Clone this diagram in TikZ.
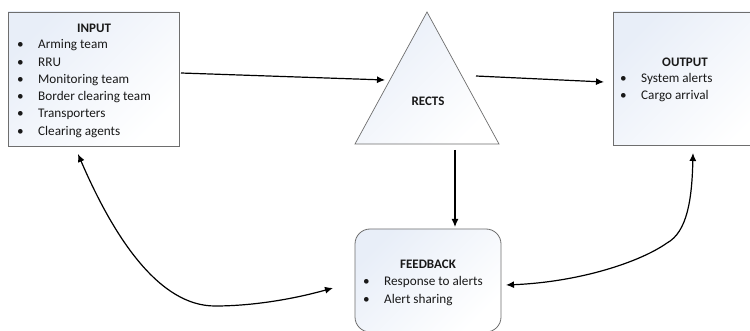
\documentclass[tikz,border=0pt]{standalone}
\usepackage{fontspec}
\setmainfont{Carlito}
\usetikzlibrary{arrows.meta}
\definecolor{boxline}{RGB}{110,110,110}
\definecolor{boxblue}{RGB}{232,238,248}
\tikzset{
  box/.style={draw=boxline, line width=0.8pt, top color=boxblue, bottom color=white, shading angle=45, inner sep=0pt},
  title/.style={font=\fontsize{13}{15}\selectfont\bfseries, inner sep=0pt, text=black!90},
  items/.style={font=\fontsize{13.2}{17.3}\selectfont, inner sep=0pt, anchor=north west, align=left, text=black!90},
  arr/.style={line width=1.2pt, -{Latex[length=8pt,width=7pt]}},
  darr/.style={line width=1.2pt, {Latex[length=8pt,width=7pt]}-{Latex[length=8pt,width=7pt]}}
}
\newcommand{\bl}{\makebox[21pt][l]{\textbullet}}
\begin{document}
\begin{tikzpicture}[x=1pt,y=-1pt]
\clip (0,0) rectangle (750,331);
\fill[white] (0,0) rectangle (750,331);
% boxes
\node[box, minimum width=171pt, minimum height=134pt] (input) at (93.5,79) {};
\node[box, minimum width=160pt, minimum height=133pt] (output) at (693,78.5) {};
\node[box, rounded corners=15pt, minimum width=146pt, minimum height=103pt] (feedback) at (428,280.5) {};
% triangle
\coordinate (tA) at (427,12);
\coordinate (tL) at (355,144);
\coordinate (tR) at (499,144);
\shade[draw=boxline, line width=0.7pt, top color=boxblue, bottom color=white, shading angle=45] (tA) -- (tL) -- (tR) -- cycle;
\node[title] (rects) at (428,101) {RECTS};
% texts
\node[title] (intitle) at (94,28) {INPUT};
\node[items] (inlist) at (17,39.5) {\bl Arming team\\ \bl RRU\\ \bl Monitoring team\\ \bl Border clearing team\\ \bl Transporters\\ \bl Clearing agents};
\node[title] (outtitle) at (685,62) {OUTPUT};
\node[items] (outlist) at (620,73) {\bl System alerts\\ \bl Cargo arrival};
\node[title] (fbtitle) at (428,264) {FEEDBACK};
\node[items] (fblist) at (363,276.5) {\bl Response to alerts\\ \bl Alert sharing};
% connector ends
\coordinate (a1s) at (181,73);
\coordinate (a1e) at (385,80);
\coordinate (a2s) at (476,76);
\coordinate (a2e) at (604,82);
\coordinate (a3s) at (455,150);
\coordinate (a3e) at (455,227);
\coordinate (c1a) at (78,154);
\coordinate (c1b) at (333,288);
\coordinate (c2a) at (693,153);
\coordinate (c2b) at (506,285);
% connectors
\draw[arr] (a1s) -- (a1e);
\draw[arr] (a2s) -- (a2e);
\draw[arr] (a3s) -- (a3e);
\draw[darr] (c1a) .. controls (115,240) and (160,306) .. (215,306) .. controls (250,306) and (290,300) .. (c1b);
\draw[darr] (c2a) .. controls (692,200) and (687,232) .. (667,243) .. controls (640,262) and (580,282) .. (c2b);
\end{tikzpicture}
\end{document}
